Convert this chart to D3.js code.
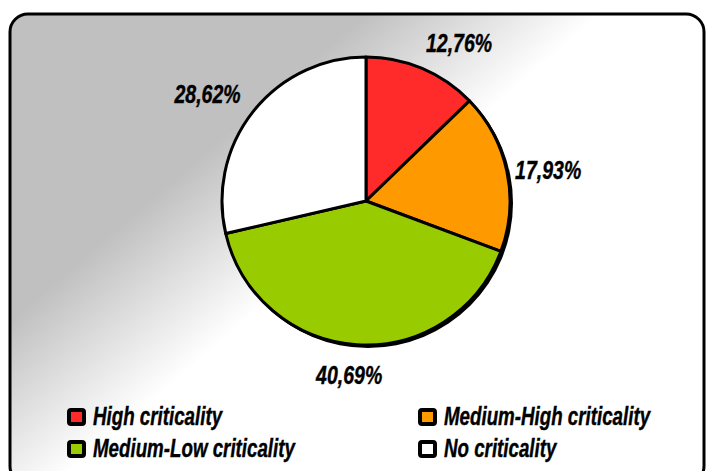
<!DOCTYPE html>
<html>
<head>
<meta charset="utf-8">
<script src="https://cdn.jsdelivr.net/npm/d3@7"></script>
<style>
  body { margin: 0; background: #fff; }
  text { font-family: "Liberation Sans", Arial, sans-serif; font-weight: bold; font-style: italic; fill: #000; stroke: #000; stroke-width: 0.4px; }
</style>
</head>
<body>
<div id="main"></div>
<script>
// Data
const categories = ['High criticality', 'Medium-High criticality', 'Medium-Low criticality', 'No criticality'];
const values = [12.76, 17.93, 40.69, 28.62];
const labels = ['12,76%', '17,93%', '40,69%', '28,62%'];
const colors = ['#ff2b2b', '#ff9900', '#99cc00', '#ffffff'];

const w = 706;
const h = 471;

// Make an SVG Container
const svg = d3.select('div#main')
  .append('svg')
  .attr('width', w)
  .attr('height', h);

// background gradient (grey top-left to white)
const grad = svg.append('defs')
  .append('linearGradient')
  .attr('id', 'bg')
  .attr('gradientUnits', 'userSpaceOnUse')
  .attr('x1', 162).attr('y1', 190)
  .attr('x2', 262).attr('y2', 306);
grad.append('stop').attr('offset', 0).attr('stop-color', '#c0c0c0');
grad.append('stop').attr('offset', 1).attr('stop-color', '#ffffff');

svg.append('rect')
  .attr('x', 10).attr('y', 14)
  .attr('width', 694).attr('height', 470)
  .attr('rx', 18)
  .attr('fill', 'url(#bg)')
  .attr('stroke', '#000')
  .attr('stroke-width', 3);

// Pie
const cx = 366, cy = 201, r = 144;
const pie = d3.pie().sort(null).value(d => d)(values);
const arc = d3.arc().innerRadius(0).outerRadius(r);
const labelArc = d3.arc().innerRadius(182).outerRadius(182);
const nudge = [[22, 10], [4, 6], [-5, -7], [-16, 6]];

const g = svg.append('g').attr('transform', `translate(${cx},${cy})`);

// shadow
g.append('circle')
  .attr('cx', 2).attr('cy', 2).attr('r', r + 1)
  .attr('fill', '#000');

g.selectAll('path.slice')
  .data(pie)
  .join('path')
  .attr('class', 'slice')
  .attr('d', arc)
  .attr('fill', (d, i) => colors[i])
  .attr('stroke', '#000')
  .attr('stroke-width', 3)
  .attr('stroke-linejoin', 'round');

g.selectAll('text.lbl')
  .data(pie)
  .join('text')
  .attr('class', 'lbl')
  .attr('transform', (d, i) => {
    const c = labelArc.centroid(d);
    return `translate(${c[0] + nudge[i][0]},${c[1] + nudge[i][1]}) scale(0.78,1)`;
  })
  .attr('text-anchor', 'middle')
  .attr('dy', '0.35em')
  .style('font-size', '25px')
  .text((d, i) => labels[i]);

// Legend
const legX = d3.scaleOrdinal().domain([0, 1]).range([69, 420]);
const legY = d3.scaleOrdinal().domain([0, 1]).range([410, 442]);

const leg = svg.selectAll('g.leg')
  .data(categories)
  .join('g')
  .attr('class', 'leg')
  .attr('transform', (d, i) => `translate(${legX(i % 2)},${legY(Math.floor(i / 2))})`);

leg.append('rect')
  .attr('width', 15).attr('height', 14)
  .attr('rx', 2)
  .attr('fill', (d, i) => colors[i])
  .attr('stroke', '#000')
  .attr('stroke-width', 4);

leg.append('text')
  .attr('transform', 'translate(24,15) scale(0.75,1)')
  .style('font-size', '25px')
  .text(d => d);
</script>
</body>
</html>
